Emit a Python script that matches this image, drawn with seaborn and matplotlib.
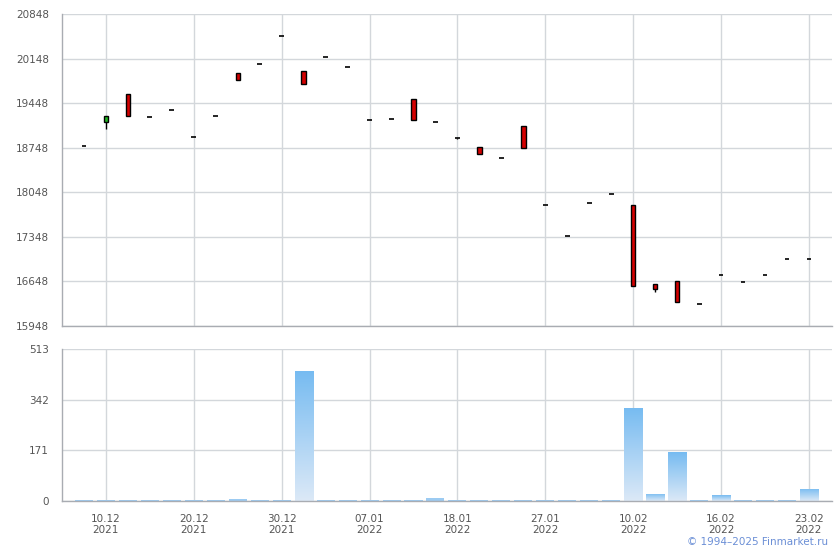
import numpy as np
import pandas as pd
import matplotlib
matplotlib.use('Agg')
import matplotlib.pyplot as plt
import seaborn as sns
from matplotlib.colors import LinearSegmentedColormap

sns.set_style('white')
plt.rcParams['font.family'] = ['DejaVu Sans']

# ---- data (34 trading sessions) ----
opens = [18770, 19157, 19592, 19226, 19336, 18911, 19241, 19917, 20058, 20498,
         19948, 20168, 20011, 19178, 19194, 19508, 19147, 18896, 18754, 18582,
         19084, 17848, 17361, 17880, 18016, 17848, 16603, 16655, 16289, 16744,
         16634, 16744, 16996, 16996]
closes = [18770, 19241, 19251, 19226, 19336, 18911, 19241, 19816, 20058, 20498,
          19753, 20168, 20011, 19178, 19194, 19188, 19147, 18896, 18654, 18582,
          18748, 17848, 17361, 17880, 18016, 16581, 16524, 16330, 16289, 16744,
          16634, 16744, 16996, 16996]
highs = [18770, 19241, 19592, 19226, 19336, 18911, 19241, 19917, 20058, 20498,
         19948, 20168, 20011, 19178, 19194, 19508, 19147, 18896, 18754, 18582,
         19084, 17848, 17361, 17880, 18016, 17848, 16603, 16655, 16289, 16744,
         16634, 16744, 16996, 16996]
lows = [18770, 19047, 19251, 19226, 19336, 18911, 19241, 19816, 20058, 20498,
        19753, 20168, 20011, 19178, 19194, 19188, 19147, 18880, 18654, 18582,
        18748, 17848, 17361, 17880, 18016, 16581, 16482, 16330, 16289, 16744,
        16634, 16744, 16996, 16996]
volumes = [4, 4, 4, 4, 4, 4, 4, 8, 4, 4,
           439, 4, 4, 4, 4, 4, 9, 4, 4, 4,
           4, 4, 4, 4, 4, 314, 24, 165, 4, 20,
           4, 4, 4, 41]
tick_idx = [1, 5, 9, 13, 17, 21, 25, 29, 33]
tick_labels = ['10.12\n2021', '20.12\n2021', '30.12\n2021', '07.01\n2022', '18.01\n2022',
               '27.01\n2022', '10.02\n2022', '16.02\n2022', '23.02\n2022']
price_ticks = [15948, 16648, 17348, 18048, 18748, 19448, 20148, 20848]
vol_ticks = [0, 171, 342, 513]

df = pd.DataFrame({'i': np.arange(len(opens)), 'open': opens, 'close': closes,
                   'high': highs, 'low': lows, 'volume': volumes})

grid_c = '#d3d7db'
axis_c = '#a9acb2'
text_c = '#555555'

fig = plt.figure(figsize=(8.4, 5.5), dpi=100)
ax1 = fig.add_axes([62 / 840, 1 - 326 / 550, 770 / 840, 312 / 550])
ax2 = fig.add_axes([62 / 840, 1 - 501 / 550, 770 / 840, 152 / 550])

for ax in (ax1, ax2):
    ax.set_xlim(-1, 34.05)
    ax.set_xticks(tick_idx)
    ax.grid(True, color=grid_c, lw=1)
    ax.set_axisbelow(True)
    for s in ('top', 'right'):
        ax.spines[s].set_visible(False)
    for s in ('left', 'bottom'):
        ax.spines[s].set_color(axis_c)
        ax.spines[s].set_linewidth(1)
    ax.tick_params(axis='both', colors=axis_c, labelcolor=text_c, labelsize=7.5,
                   length=6, width=1)

# ---- candles ----
ax1.set_ylim(price_ticks[0], price_ticks[-1])
ax1.set_yticks(price_ticks)
ax1.set_xticklabels([])
body_w = 0.2
doji = df[df['open'] == df['close']]
real = df[df['open'] != df['close']]
wick = df[df['high'] != df['low']]
ax1.vlines(wick['i'], wick['low'], wick['high'], color='black', lw=1, zorder=2)
colors = np.where(real['close'] > real['open'], '#22b522', '#d40000')
ax1.bar(real['i'], (real['close'] - real['open']).abs(),
        bottom=np.minimum(real['open'], real['close']), width=body_w,
        color=colors, edgecolor='black', linewidth=1, zorder=3)
ax1.hlines(doji['close'], doji['i'] - 0.22 / 2, doji['i'] + 0.22 / 2,
           color='black', lw=1.2, zorder=3)

# ---- volume ----
sns.barplot(data=df, x='i', y='volume', ax=ax2, native_scale=True,
            color='#8ec4f0', width=0.82, saturation=1, zorder=2)
cmap = LinearSegmentedColormap.from_list('vol', ['#dce9f7', '#76bbf1'])
grad = np.linspace(0, 1, 256).reshape(-1, 1)
for p in ax2.patches:
    x0, y0 = p.get_x(), p.get_y()
    w, h = p.get_width(), p.get_height()
    if h < 10:
        p.set_facecolor('#9ccbf2')
        p.set_edgecolor('none')
        continue
    im = ax2.imshow(grad, cmap=cmap, origin='lower', aspect='auto',
                    extent=[x0, x0 + w, y0, y0 + h], zorder=2.5)
    im.set_clip_path(p)
    p.set_facecolor('none')
    p.set_edgecolor('none')
ax2.set_xlim(-1, 34.05)
ax2.set_ylim(0, 513)
ax2.set_yticks(vol_ticks)
ax2.set_xticks(tick_idx)
ax2.set_xticklabels(tick_labels, linespacing=1.15)
ax2.set_xlabel('')
ax2.set_ylabel('')

fig.text(828 / 840, 1 - 542 / 550, '\u00a9 1994\u20132025 Finmarket.ru', ha='right', va='center',
         color='#6b8fd6', fontsize=7.5)

fig.savefig('out.png', dpi=100)
